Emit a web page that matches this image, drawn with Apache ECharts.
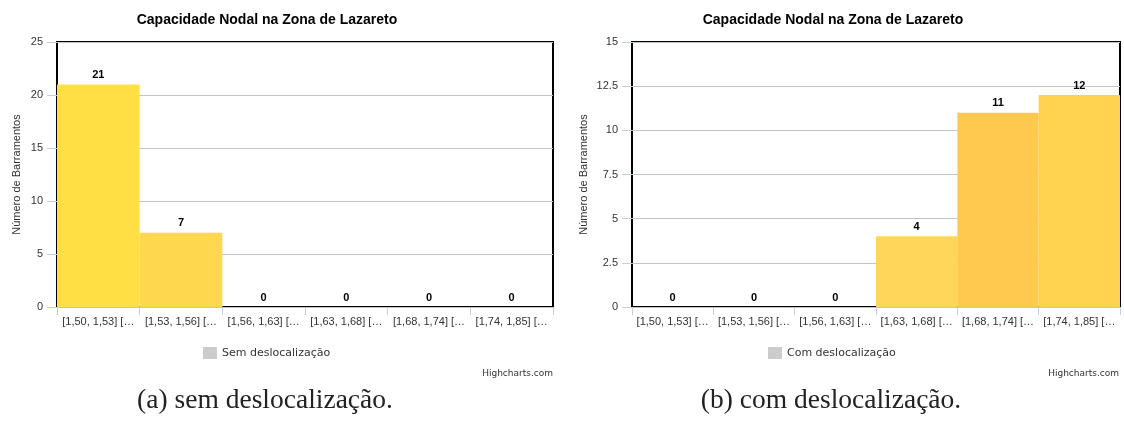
<!DOCTYPE html>
<html>
<head>
<meta charset="utf-8">
<script src="https://cdn.jsdelivr.net/npm/echarts@6/dist/echarts.min.js"></script>
<style>
    html, body { margin: 0; padding: 0; background: #fff; }
    #chart { width: 1124px; height: 425px; }
</style>
</head>
<body>
<div id="chart"></div>
<script>
// faixas de capacidade (rótulos já cortados como no original)
var categories = ['[1,50, 1,53] […', '[1,53, 1,56] […', '[1,56, 1,63] […', '[1,63, 1,68] […', '[1,68, 1,74] […', '[1,74, 1,85] […'];
var semValues = [21, 7, 0, 0, 0, 0];
var comValues = [0, 0, 0, 4, 11, 12];
var semTicks = [0, 5, 10, 15, 20, 25];
var comTicks = [0, 2.5, 5, 7.5, 10, 12.5, 15];

var semColors = ['#FFDF43', '#FFD84F', '#FFD65A', '#FFD65A', '#FFD65A', '#FFD65A'];
var comColors = ['#FFD65A', '#FFD65A', '#FFD65A', '#FFD65A', '#FFC950', '#FFD250'];

var sans = '"Liberation Sans", Arial, sans-serif';

function yAxis(grid, ticks, gap) {
    return {
        type: 'value',
        gridIndex: grid,
        min: ticks[0],
        max: ticks[ticks.length - 1],
        interval: ticks[1] - ticks[0],
        name: 'Número de Barramentos',
        nameLocation: 'middle',
        nameGap: gap,
        nameTextStyle: { fontFamily: sans, fontSize: 11, color: '#333' },
        axisLine: { show: false },
        axisTick: { show: true, length: 10, lineStyle: { color: '#C0D0E0' } },
        axisLabel: { fontFamily: sans, fontSize: 11, color: '#333', margin: 14 },
        splitLine: { lineStyle: { color: '#C4C4C4' } }
    };
}

function xAxis(grid) {
    return {
        type: 'category',
        gridIndex: grid,
        data: categories,
        axisLine: { show: false },
        axisTick: { show: true, length: 8, lineStyle: { color: '#C0D0E0' } },
        axisLabel: { fontFamily: sans, fontSize: 11, color: '#333', margin: 9, interval: 0 }
    };
}

function bars(name, values, colors, idx) {
    return {
        name: name,
        type: 'bar',
        xAxisIndex: idx,
        yAxisIndex: idx,
        barCategoryGap: 0,
        itemStyle: { color: '#CCCCCC' },
        data: values.map(function (v, i) {
            return { value: v, itemStyle: { color: colors[i] } };
        }),
        label: {
            show: true,
            position: 'top',
            distance: 4,
            fontFamily: sans,
            fontSize: 11,
            fontWeight: 'bold',
            color: '#000'
        }
    };
}

var chart = echarts.init(document.getElementById('chart'));
chart.setOption({
    animation: false,
    title: [
        { text: 'Capacidade Nodal na Zona de Lazareto', left: 262, top: 8, textAlign: 'center',
          textStyle: { fontFamily: sans, fontSize: 14, fontWeight: 'bold', color: '#000' } },
        { text: 'Capacidade Nodal na Zona de Lazareto', left: 828, top: 8, textAlign: 'center',
          textStyle: { fontFamily: sans, fontSize: 14, fontWeight: 'bold', color: '#000' } }
    ],
    legend: [
        { data: ['Sem deslocalização'], left: 198, top: 342, icon: 'rect', itemWidth: 14, itemHeight: 12, itemGap: 5,
          textStyle: { fontFamily: '"DejaVu Sans", sans-serif', fontSize: 11, color: '#333' } },
        { data: ['Com deslocalização'], left: 763, top: 342, icon: 'rect', itemWidth: 14, itemHeight: 12, itemGap: 5,
          textStyle: { fontFamily: '"DejaVu Sans", sans-serif', fontSize: 11, color: '#333' } }
    ],
    grid: [
        { left: 57, right: 571, top: 42, bottom: 118, show: true, borderColor: '#000', borderWidth: 2 },
        { left: 632, right: 4, top: 42, bottom: 118, show: true, borderColor: '#000', borderWidth: 2 }
    ],
    xAxis: [xAxis(0), xAxis(1)],
    yAxis: [yAxis(0, semTicks, 35), yAxis(1, comTicks, 43)],
    series: [
        bars('Sem deslocalização', semValues, semColors, 0),
        bars('Com deslocalização', comValues, comColors, 1)
    ],
    graphic: [
        { type: 'text', right: 571, top: 369, style: { text: 'Highcharts.com', fontFamily: '"DejaVu Sans", sans-serif', fontSize: 9, fill: '#333' } },
        { type: 'text', right: 5, top: 369, style: { text: 'Highcharts.com', fontFamily: '"DejaVu Sans", sans-serif', fontSize: 9, fill: '#333' } },
        { type: 'text', x: 265, y: 401, style: { text: '(a) sem deslocalização.', fontFamily: '"Liberation Serif", serif', fontSize: 27.5, fill: '#222', align: 'center', verticalAlign: 'middle' } },
        { type: 'text', x: 831, y: 401, style: { text: '(b) com deslocalização.', fontFamily: '"Liberation Serif", serif', fontSize: 27.5, fill: '#222', align: 'center', verticalAlign: 'middle' } }
    ]
});
</script>
</body>
</html>
